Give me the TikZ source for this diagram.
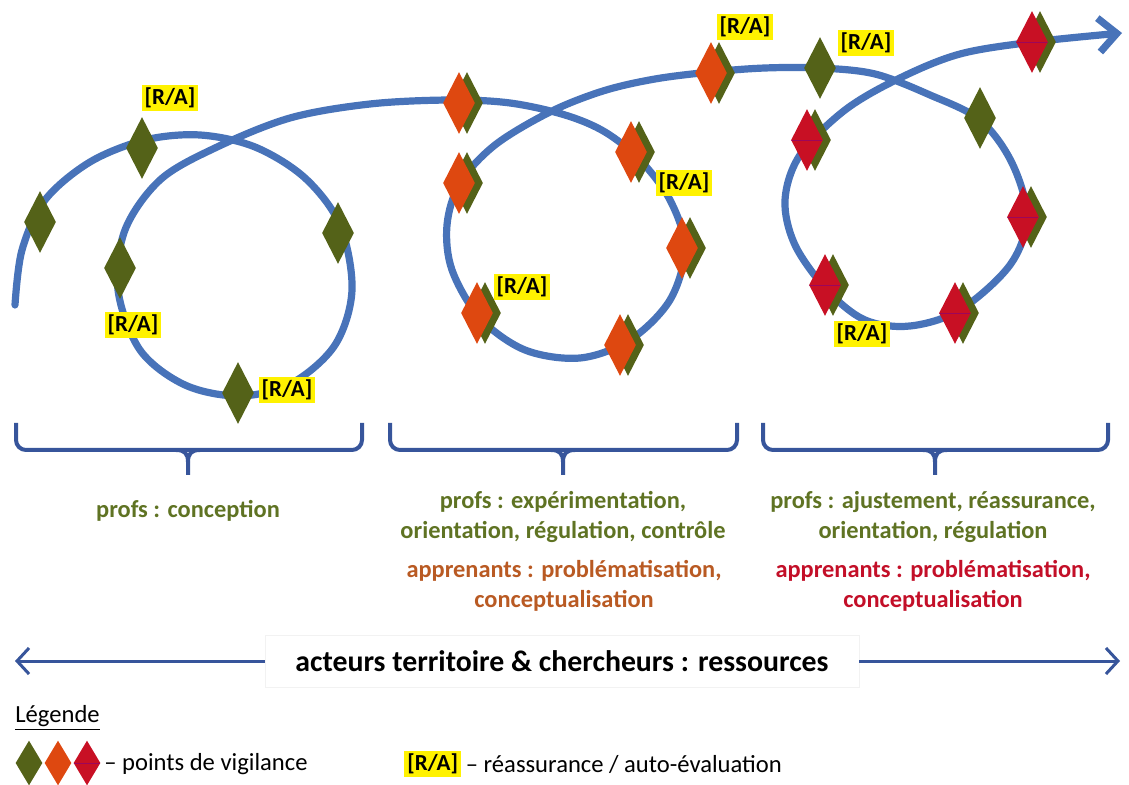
\documentclass[tikz,border=0pt]{standalone}
\usepackage{fontspec}
\setmainfont{Carlito}
\usetikzlibrary{shapes.geometric,arrows.meta,positioning}
\definecolor{bleuC}{RGB}{72,115,185}
\definecolor{bleuA}{RGB}{55,85,155}
\definecolor{vertD}{RGB}{84,98,24}
\definecolor{orangeD}{RGB}{222,72,16}
\definecolor{rougeD}{RGB}{200,16,36}
\definecolor{vertT}{RGB}{95,115,35}
\definecolor{orangeT}{RGB}{185,90,35}
\definecolor{rougeT}{RGB}{195,15,40}

\begin{document}
\begin{tikzpicture}[
  x=0.5pt, y=-0.5pt,
  spirale/.style={draw=bleuC, line width=3.6pt, line cap=round},
  diam/.style={diamond, inner sep=0pt, minimum width=16pt, minimum height=31pt},
  vert/.style={diam, fill=vertD},
  orange/.style={diam, fill=orangeD},
  rouge/.style={diam, fill=rougeD, path picture={\draw[violet!60!rougeD, line width=0.4pt] (path picture bounding box.west) -- (path picture bounding box.east);}},
  ra/.style={fill=yellow, inner sep=1.5pt, font=\bfseries\fontsize{11.5}{12}\selectfont},
  accolade/.style={draw=bleuA, line width=2pt},
  txt/.style={align=center, font=\bfseries\fontsize{12.2}{15}\selectfont},
  legtxt/.style={anchor=west, inner sep=0pt, font=\fontsize{12.3}{14}\selectfont},
  fleche/.style={draw=bleuA, line width=1.5pt, -{Straight Barb[length=6pt,width=13pt]}}
]
  \useasboundingbox (0,0) rectangle (1129,785);

  % la spirale
  \draw[spirale, -{Straight Barb[length=9pt,width=17pt]}] plot[smooth, tension=0.55] coordinates {
    (15,305) (22,250) (45,200) (90,162) (145,140) (200,135) (255,147) (305,178) (340,225)
    (352,290) (335,345) (292,383) (240,396) (185,385) (140,350) (118,290) (125,230) (160,180)
    (215,148) (290,118) (370,104) (450,100) (510,103) (565,115) (605,132) (640,160) (670,200)
    (685,248) (670,300) (630,340) (580,358) (525,350) (480,318) (452,270) (447,225) (460,183)
    (495,145) (550,112) (603,91) (655,79) (711,72) (765,68) (820,68) (875,74) (930,95)
    (980,120) (1012,163) (1027,217) (1010,265) (960,310) (910,326) (865,320) (827,290)
    (795,245) (785,200) (800,155) (845,110) (900,78) (960,54) (1033,42) (1122,33)};

  % cycle 1
  \foreach \x/\y [count=\i] in {40/222, 142/148, 338/233, 120/268, 238/393}
    \node[vert] (a\i) at (\x,\y) {};

  % cycle 2
  \foreach \x/\y [count=\i] in {459/103, 459/183, 631/152, 682/248, 477/313, 620/345, 711/73} {
    \node[vert] (bv\i) at (\x+8,\y) {};
    \node[orange] (b\i) at (\x,\y) {};
  }

  % cycle 3
  \node[vert] (c1) at (820,68) {};
  \node[vert] (c2) at (980,118) {};
  \foreach \x/\y [count=\i from 3] in {807/140, 1023/217, 825/285, 955/313, 1032/42} {
    \node[vert] (cv\i) at (\x+8,\y) {};
    \node[rouge] (c\i) at (\x,\y) {};
  }

  % [R/A]
  \foreach \x/\y [count=\i] in {170/98, 133/325, 287/390, 522/287, 684/183, 745/27, 866/43, 862/334}
    \node[ra] (ra\i) at (\x,\y) {[R/A]};

  % accolades
  \foreach \a/\m/\b [count=\i] in {16/188/362, 390/563/737, 763/935/1108} {
    \draw[accolade, rounded corners=5pt] (\a,423) -- (\a,450) -- (\b,450) -- (\b,423);
    \draw[accolade] (\m-12,450) .. controls (\m-3,450) and (\m,454) .. (\m,462) -- (\m,475);
    \draw[accolade] (\m+12,450) .. controls (\m+3,450) and (\m,454) .. (\m,462);
    \coordinate (pointe\i) at (\m,475);
  }

  \node[txt, text=vertT] (p1) at (188,511) {profs : conception};
  \node[txt, text=vertT] (p2) at (563,517) {profs : expérimentation,\\orientation, régulation, contrôle};
  \node[txt, text=orangeT] (e2) at (564,586) {apprenants : problématisation,\\conceptualisation};
  \node[txt, text=vertT] (p3) at (933,517) {profs : ajustement, réassurance,\\orientation, régulation};
  \node[txt, text=rougeT] (e3) at (933,586) {apprenants : problématisation,\\conceptualisation};

  % ressources
  \node[draw=gray!10, fill=white, minimum width=297pt, minimum height=26pt,
        font=\bfseries\fontsize{14.9}{17}\selectfont] (ress) at (562,661)
        {acteurs territoire \& chercheurs : ressources};
  \coordinate (gauche) at (15,661);
  \coordinate (droite) at (1120,661);
  \draw[fleche] (ress) -- (gauche);
  \draw[fleche] (ress) -- (droite);

  % legende
  \node[legtxt] (leg) at (15,718) {\underline{Légende}};
  \node[vert, minimum width=13.5pt, minimum height=22.5pt] (l1) at (29,763) {};
  \node[orange, minimum width=13.5pt, minimum height=22.5pt] (l2) at (58,763) {};
  \node[rouge, minimum width=13.5pt, minimum height=22.5pt] (l3) at (87,763) {};
  \node[legtxt] (vig) at (104,764) {– points de vigilance};
  \node[ra, anchor=west] (ral) at (404,764) {[R/A]};
  \node[legtxt, right=2pt of ral] (auto) {– réassurance / auto-évaluation};
\end{tikzpicture}
\end{document}
